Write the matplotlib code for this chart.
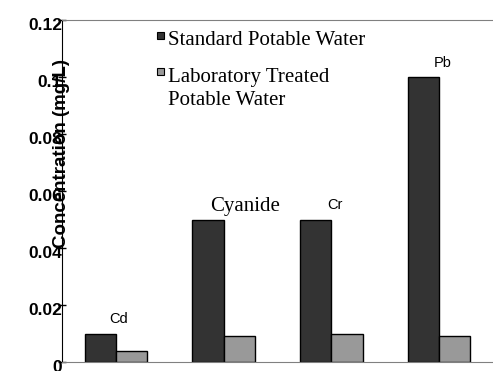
import matplotlib.pyplot as plt
import matplotlib.transforms as mtransforms
from matplotlib.patches import Rectangle
import numpy as np

metals = ['Cd', 'Cyanide', 'Cr', 'Pb']
standard = [0.01, 0.05, 0.05, 0.1]
treated = [0.004, 0.009, 0.01, 0.009]
yticks = [0, 0.02, 0.04, 0.06, 0.08, 0.1, 0.12]
ytick_labels = ['0', '0.02', '0.04', '0.06', '0.08', '0.1', '0.12']
legend_labels = ['Standard Potable Water', 'Laboratory Treated\nPotable Water']
dark = '#333333'
light = '#999999'

fig = plt.figure(figsize=(4.93, 3.71), dpi=100)
ax = fig.add_axes([62/493, 9/371, 431/493, 342/371])

x = np.arange(len(metals))
w = 0.29
ax.bar(x - w/2, standard, w, color=dark, edgecolor='black', linewidth=1)
ax.bar(x + w/2, treated, w, color=light, edgecolor='black', linewidth=1)

ax.set_xlim(-0.5, 3.5)
ax.set_ylim(0, 0.12)
ax.set_yticks(yticks)
ax.set_yticklabels(ytick_labels, fontfamily='Liberation Sans', fontweight='bold', fontsize=12.5)
ax.set_xticks([])
ax.tick_params(axis='y', direction='inout', length=6, width=1, pad=-3)
# labels sit a bit below their ticks
off = mtransforms.ScaledTranslation(0, -4/100, fig.dpi_scale_trans)
for lab in ax.get_yticklabels():
    lab.set_transform(lab.get_transform() + off)

ax.spines['right'].set_visible(False)
ax.spines['top'].set_color('#808080')
ax.spines['bottom'].set_color('#808080')
ax.spines['left'].set_color('black')

# labels above the bars
ax.text(x[0] + 0.03, standard[0] + 0.0025, 'Cd', fontfamily='Liberation Sans', fontsize=10.5, ha='center', va='bottom')
ax.text(x[1] + 0.2, standard[1] + 0.0012, 'Cyanide', fontfamily='Liberation Serif', fontsize=15, ha='center', va='bottom')
ax.text(x[2] + 0.03, standard[2] + 0.0025, 'Cr', fontfamily='Liberation Sans', fontsize=10.5, ha='center', va='bottom')
ax.text(x[3] + 0.03, standard[3] + 0.0025, 'Pb', fontfamily='Liberation Sans', fontsize=10.5, ha='center', va='bottom')

# legend drawn by hand: small squares next to the first text line (pixel rows from figure top)
text_top = [31, 68]
box_top = [32, 68]
for lab, col, ty, by in zip(legend_labels, [dark, light], text_top, box_top):
    ax.add_patch(Rectangle((95/431, (371 - 9 - by - 7)/342), 7/431, 7/342, transform=ax.transAxes,
                           facecolor=col, edgecolor='black', linewidth=0.8, clip_on=False))
    ax.text(106/431, (371 - 9 - ty)/342, lab, transform=ax.transAxes, fontfamily='Liberation Serif',
            fontsize=15, ha='left', va='top', linespacing=1.3)

fig.text(62/493, 1 - 153/371, 'Concentration (mg/L)', rotation=90, ha='center', va='center',
         fontfamily='Liberation Sans', fontweight='bold', fontsize=13.5)

fig.savefig('out.png', dpi=100)
